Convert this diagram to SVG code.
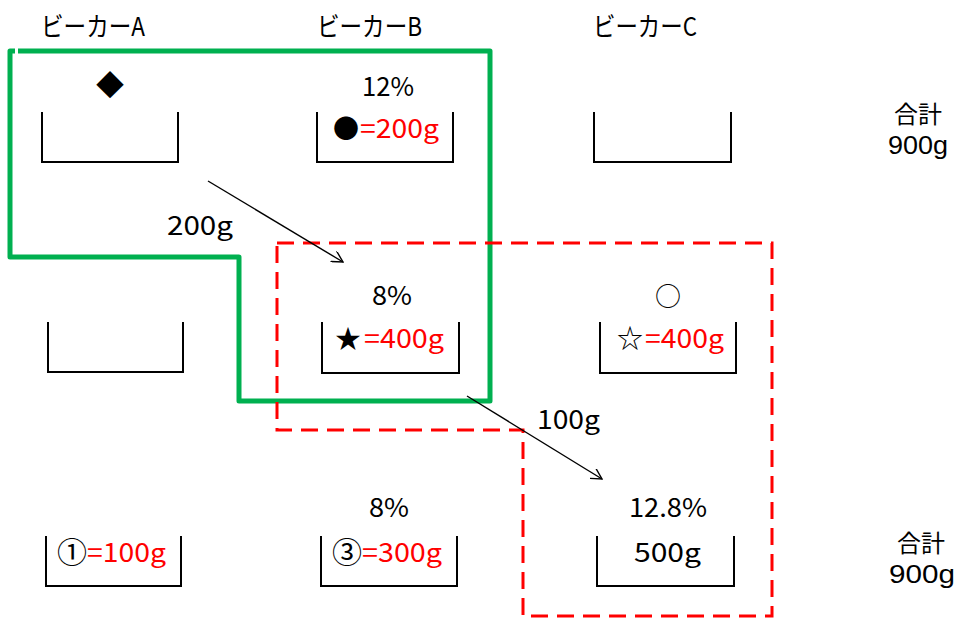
<svg xmlns="http://www.w3.org/2000/svg" width="957" height="619" viewBox="0 0 957 619">
<style>
.t{font-family:"Noto Sans CJK JP","Noto Sans",sans-serif;font-size:26px;fill:#000}
.l{font-family:"Liberation Sans",Arial,sans-serif;font-size:26px;fill:#000}
.r{fill:#FF0000}
.s{text-anchor:middle}
.c{font-size:30px}
.bk{fill:none;stroke:#000;stroke-width:2}
.arr{fill:none;stroke:#000;stroke-width:1.4}
</style>
<defs>
<marker id="ah" viewBox="0 0 12 12" refX="11" refY="6" markerWidth="12" markerHeight="12" markerUnits="userSpaceOnUse" orient="auto">
<path d="M0,0 L11,6 L0,12" fill="none" stroke="#000" stroke-width="1.4"/>
</marker>
</defs>
<rect width="957" height="619" fill="#fff"/>

<g id="headers">
<text class="t" x="41" y="36" textLength="104" lengthAdjust="spacingAndGlyphs">ビーカーA</text>
<text class="t" x="317" y="36" textLength="105" lengthAdjust="spacingAndGlyphs">ビーカーB</text>
<text class="t" x="593" y="36" textLength="104" lengthAdjust="spacingAndGlyphs">ビーカーC</text>
</g>

<g id="outlines">
<path d="M18,51 H490 V401 H239 V257 H10 V51 H15" fill="none" stroke="#00B050" stroke-width="5" stroke-linejoin="round"/>
<path d="M277,243 H772 V616 H523 V430 H277 Z" fill="none" stroke="#FF0000" stroke-width="3" stroke-dasharray="17 9"/>
</g>

<g id="beakerA1">
<path class="bk" d="M42,112 V162 H178 V112"/>
<text class="t s" x="110" y="96" style="font-size:28px">◆&#xFE0E;</text>
</g>
<g id="beakerB1">
<path class="bk" d="M317,112 V162 H453 V112"/>
<text class="t" x="362" y="96" textLength="52" lengthAdjust="spacingAndGlyphs">12%</text>
<text class="t"><tspan class="s" x="346" y="138">●</tspan><tspan class="r" x="360" y="138" textLength="79" lengthAdjust="spacingAndGlyphs">=200g</tspan></text>
</g>
<g id="beakerC1">
<path class="bk" d="M594,112 V162 H731 V112"/>
</g>

<g id="beakerA2">
<path class="bk" d="M48,322 V372 H183 V322"/>
</g>
<g id="beakerB2">
<path class="bk" d="M322,322 V373 H459 V322"/>
<text class="t" x="372" y="305" textLength="40" lengthAdjust="spacingAndGlyphs">8%</text>
<text class="t"><tspan class="s" x="348" y="348">★</tspan><tspan class="r" x="364" y="348" textLength="80" lengthAdjust="spacingAndGlyphs">=400g</tspan></text>
</g>
<g id="beakerC2">
<path class="bk" d="M600,322 V373 H736 V322"/>
<text class="t s" x="668" y="306">○</text>
<text class="t"><tspan class="s" x="630" y="348">☆</tspan><tspan class="r" x="645" y="348" textLength="79" lengthAdjust="spacingAndGlyphs">=400g</tspan></text>
</g>

<g id="beakerA3">
<path class="bk" d="M46,536 V586 H181 V536"/>
<text class="t"><tspan class="s c" x="72" y="563">①</tspan><tspan class="r" x="87" y="562" textLength="79" lengthAdjust="spacingAndGlyphs">=100g</tspan></text>
</g>
<g id="beakerB3">
<path class="bk" d="M321,536 V586 H457 V536"/>
<text class="t" x="369" y="517" textLength="40" lengthAdjust="spacingAndGlyphs">8%</text>
<text class="t"><tspan class="s c" x="347" y="563">③</tspan><tspan class="r" x="362" y="562" textLength="80" lengthAdjust="spacingAndGlyphs">=300g</tspan></text>
</g>
<g id="beakerC3">
<path class="bk" d="M597,536 V586 H734 V536"/>
<text class="t" x="629" y="517" textLength="78" lengthAdjust="spacingAndGlyphs">12.8%</text>
<text class="t" x="634" y="562" textLength="67" lengthAdjust="spacingAndGlyphs">500g</text>
</g>

<g id="total1">
<text class="t s" x="918" y="123" style="font-size:24px">合計</text>
<text class="l" x="888" y="154" textLength="60" lengthAdjust="spacingAndGlyphs">900g</text>
</g>
<g id="total2">
<text class="t s" x="921" y="552" style="font-size:24px">合計</text>
<text class="l" x="889" y="583" textLength="66" lengthAdjust="spacingAndGlyphs">900g</text>
</g>

<g id="connectors">
<line class="arr" x1="208" y1="181" x2="343" y2="262" marker-end="url(#ah)"/>
<text class="t" x="167" y="235" textLength="66" lengthAdjust="spacingAndGlyphs">200g</text>
<line class="arr" x1="467" y1="396" x2="602" y2="479" marker-end="url(#ah)"/>
<text class="t" x="537" y="429" textLength="63" lengthAdjust="spacingAndGlyphs">100g</text>
</g>
</svg>
